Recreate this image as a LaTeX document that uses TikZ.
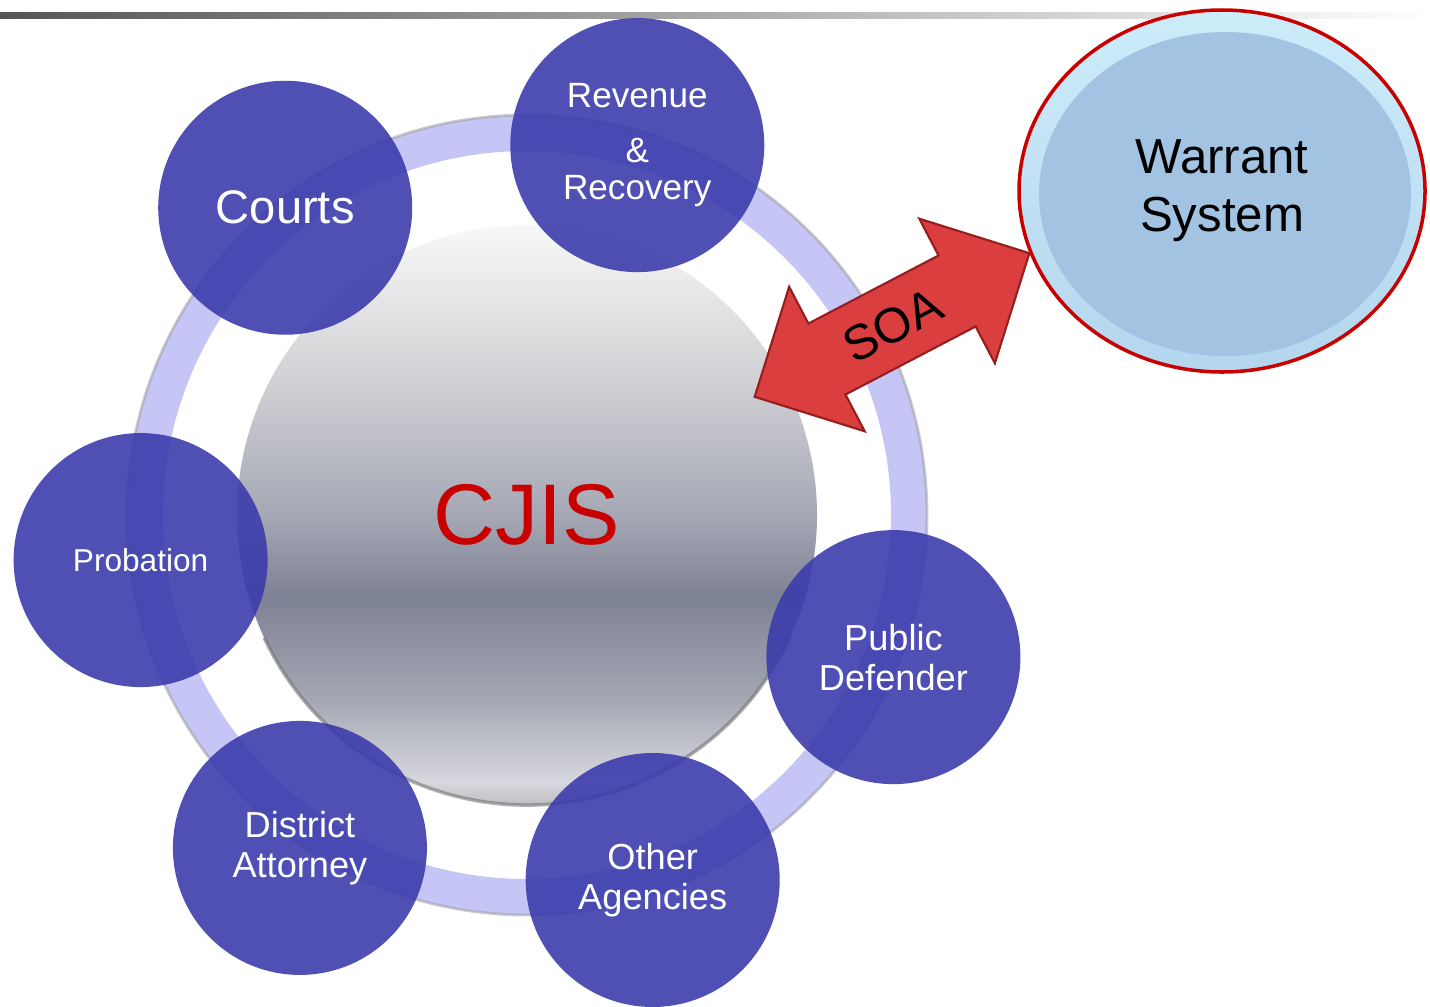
\documentclass[tikz,border=0pt]{standalone}
\usepackage{fontspec}
\setmainfont{Liberation Sans}
\usetikzlibrary{shapes.geometric, shapes.arrows}

\definecolor{satblue}{RGB}{60,60,172}
\definecolor{ringblue}{RGB}{198,198,246}
\definecolor{cjisred}{RGB}{200,0,0}
\definecolor{barstart}{RGB}{85,85,85}
\definecolor{wsrimtop}{RGB}{205,236,250}
\definecolor{wsrimbot}{RGB}{180,214,238}
\definecolor{wsfill}{RGB}{162,195,226}
\definecolor{wsborder}{RGB}{200,0,0}
\definecolor{soared}{RGB}{218,62,62}
\definecolor{soaedge}{RGB}{150,30,30}
\definecolor{cjisrim}{RGB}{190,190,196}
\definecolor{cjislow}{RGB}{215,215,222}
\definecolor{cjismid}{RGB}{165,168,180}
\definecolor{cjisband}{RGB}{125,130,148}
\definecolor{cjisup}{RGB}{210,210,214}
\definecolor{cjistop}{RGB}{248,248,248}
\pgfdeclareverticalshading{cjisshade}{100bp}{color(0bp)=(cjisrim); color(25bp)=(cjisrim); color(27bp)=(cjislow); color(34bp)=(cjismid); color(43bp)=(cjisband); color(50bp)=(cjismid); color(62bp)=(cjisup); color(75bp)=(cjistop); color(100bp)=(cjistop)}

\begin{document}
\begin{tikzpicture}[
	sat/.style={circle, fill=satblue, fill opacity=0.9, text opacity=1, text=white, minimum size=2.54cm, inner sep=0pt, align=center, font=\fontsize{10.3}{11.4}\selectfont},
	hub/.style={circle, minimum size=5.8cm, inner sep=0pt, shade, shading=cjisshade, text=cjisred, font=\fontsize{24.5}{28}\selectfont},
	warrant/.style={ellipse, minimum width=4.06cm, minimum height=3.62cm, inner sep=0pt, top color=wsrimtop, bottom color=wsrimbot, draw=wsborder, line width=1pt, align=center, font=\fontsize{14}{16.5}\selectfont,
		path picture={\fill[wsfill] ([shift={(0.03,-0.03)}]path picture bounding box.center) ellipse (1.86cm and 1.62cm);}},
	soa/.style={double arrow, double arrow head extend=0.415cm, double arrow tip angle=90, minimum height=3.1cm, inner ysep=0pt, text height=0.567cm, text depth=0.213cm, fill=soared, draw=soaedge, line width=0.6pt, font=\fontsize{14}{14}\selectfont}
]
	\useasboundingbox (0,0) rectangle (14.3,10.06);
	\shade[left color=barstart, right color=white] (0,9.88) rectangle (14.3,9.94);

	\node[hub] (cjis) at (5.27,4.91) {CJIS};
	\draw[ringblue, line width=0.36cm] (cjis.center) circle (3.82cm);
	\draw[black!40, line width=0.8pt, opacity=0.5] (cjis.center) circle (4cm);
	\draw[black!55, line width=1pt, opacity=0.6] ([shift={(205:2.9cm)}]cjis.center) arc (205:335:2.9cm);

	\node[sat, font=\fontsize{13.4}{15}\selectfont] (courts) at ([shift={(128.2:3.91cm)}]cjis.center) {Courts};
	\node[sat, font=\fontsize{10}{10.5}\selectfont] (revenue) at ([shift={(73.4:3.86cm)}]cjis.center) {Revenue\\[5pt]\&\\Recovery};
	\node[sat, font=\fontsize{9}{11}\selectfont] (probation) at ([shift={(186.65:3.89cm)}]cjis.center) {Probation};
	\node[sat] (defender) at ([shift={(-21.2:3.93cm)}]cjis.center) {Public\\Defender};
	\node[sat] (attorney) at ([shift={(235.7:4.03cm)}]cjis.center) {District\\Attorney};
	\node[sat] (agencies) at ([shift={(289:3.86cm)}]cjis.center) {Other\\Agencies};

	\node[warrant] (warrant) at (12.22,8.15) {Warrant\\System};
	\node[soa, rotate=27.6] (soa) at (8.92,6.81) {SOA};
\end{tikzpicture}
\end{document}
